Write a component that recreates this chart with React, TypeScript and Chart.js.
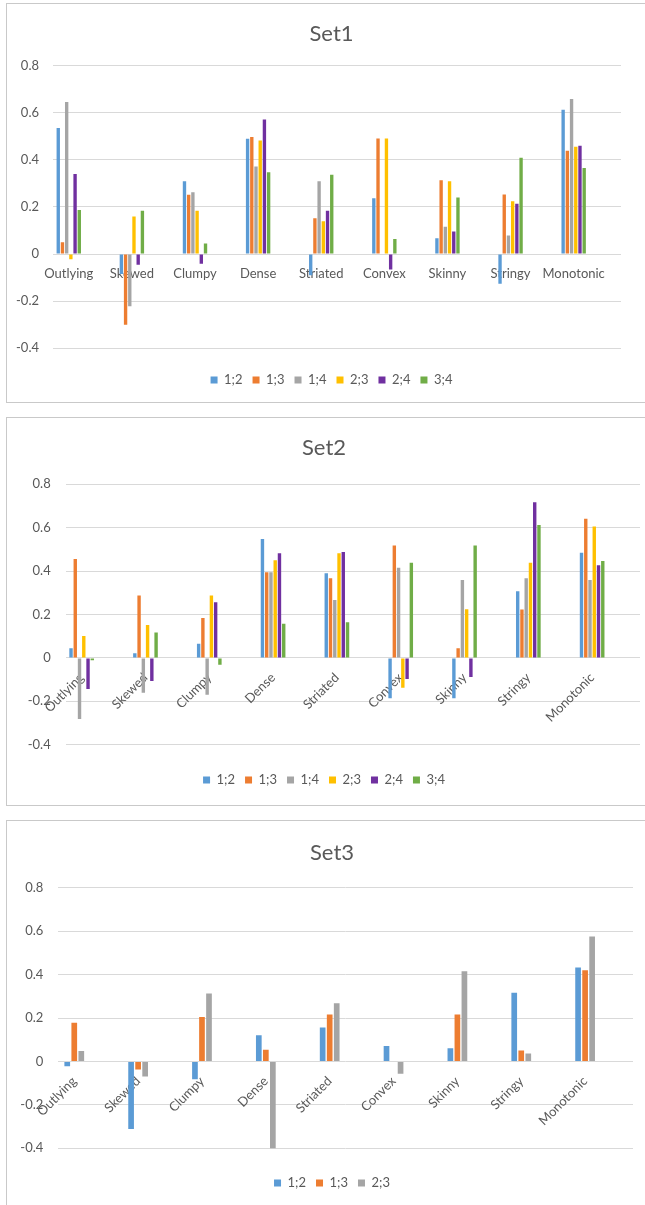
import React, { useEffect, useRef } from 'react';
import { Chart, registerables } from 'chart.js';

Chart.register(...registerables);

const FONT = 'Lato';
const TEXT_COLOR = '#595959';
const GRID_COLOR = '#D9D9D9';

const CATEGORIES = ['Outlying', 'Skewed', 'Clumpy', 'Dense', 'Striated', 'Convex', 'Skinny', 'Stringy', 'Monotonic'];
const SERIES_6 = ['1;2', '1;3', '1;4', '2;3', '2;4', '3;4'];
const SERIES_3 = ['1;2', '1;3', '2;3'];
const COLORS_6 = ['#5B9BD5', '#ED7D31', '#A5A5A5', '#FFC000', '#7030A0', '#70AD47'];
const COLORS_3 = ['#5B9BD5', '#ED7D31', '#A5A5A5'];
const Y_TICKS = [-0.4, -0.2, 0, 0.2, 0.4, 0.6, 0.8];

// Set1
const SET1_12 = [0.535, -0.085, 0.309, 0.49, -0.09, 0.237, 0.067, -0.126, 0.613];
const SET1_13 = [0.05, -0.3, 0.252, 0.497, 0.152, 0.491, 0.313, 0.253, 0.439];
const SET1_14 = [0.645, -0.222, 0.262, 0.372, 0.309, 0, 0.116, 0.079, 0.658];
const SET1_23 = [-0.022, 0.159, 0.184, 0.482, 0.139, 0.491, 0.309, 0.224, 0.456];
const SET1_24 = [0.34, -0.045, -0.041, 0.571, 0.184, -0.065, 0.096, 0.214, 0.46];
const SET1_34 = [0.187, 0.184, 0.045, 0.347, 0.337, 0.064, 0.24, 0.409, 0.365];

// Set2
const SET2_12 = [0.045, 0.022, 0.065, 0.548, 0.39, -0.186, -0.186, 0.307, 0.485];
const SET2_13 = [0.456, 0.287, 0.184, 0.395, 0.367, 0.518, 0.045, 0.223, 0.641];
const SET2_14 = [-0.281, -0.161, -0.17, 0.395, 0.267, 0.415, 0.359, 0.367, 0.359];
const SET2_23 = [0.101, 0.152, 0.287, 0.45, 0.482, -0.137, 0.224, 0.438, 0.605];
const SET2_24 = [-0.143, -0.106, 0.257, 0.482, 0.488, -0.097, -0.088, 0.717, 0.427];
const SET2_34 = [-0.011, 0.117, -0.032, 0.157, 0.164, 0.438, 0.518, 0.613, 0.447];

// Set3
const SET3_12 = [-0.022, -0.311, -0.082, 0.121, 0.157, 0.072, 0.061, 0.317, 0.433];
const SET3_13 = [0.179, -0.037, 0.205, 0.054, 0.217, 0, 0.217, 0.051, 0.42];
const SET3_23 = [0.048, -0.069, 0.313, -0.406, 0.268, -0.057, 0.416, 0.037, 0.576];

type Panel = {
  title: string;
  series: string[];
  colors: string[];
  values: number[][];
  rotation: number;
  boxTop: number;
  boxHeight: number;
  canvasTop: number;
  canvasW: number;
  canvasH: number;
  yAxisW: number;
  yTickPad: number;
  rightGap: number;
  titlePadTop: number;
  titlePadBottom: number;
  legendGap: number;
  padBottom: number;
  catPct: number;
  barPct: number;
};

const PANELS: Panel[] = [
  {
    title: 'Set1', series: SERIES_6, colors: COLORS_6,
    values: [SET1_12, SET1_13, SET1_14, SET1_23, SET1_24, SET1_34],
    rotation: 0, boxTop: 3, boxHeight: 400, canvasTop: 4, canvasW: 649, canvasH: 398,
    yAxisW: 46, yTickPad: 14, rightGap: 35, titlePadTop: 16.8, titlePadBottom: 18.4,
    legendGap: 15.2, padBottom: 5.5, catPct: 0.4, barPct: 0.8,
  },
  {
    title: 'Set2', series: SERIES_6, colors: COLORS_6,
    values: [SET2_12, SET2_13, SET2_14, SET2_23, SET2_24, SET2_34],
    rotation: 45, boxTop: 417, boxHeight: 389, canvasTop: 418, canvasW: 634, canvasH: 386,
    yAxisW: 58.7, yTickPad: 15, rightGap: 1, titlePadTop: 16.8, titlePadBottom: 23.1,
    legendGap: 18.8, padBottom: 7.5, catPct: 0.4, barPct: 0.8,
  },
  {
    title: 'Set3', series: SERIES_3, colors: COLORS_3,
    values: [SET3_12, SET3_13, SET3_23],
    rotation: 45, boxTop: 820, boxHeight: 420, canvasTop: 821, canvasW: 650, canvasH: 390,
    yAxisW: 51.3, yTickPad: 15, rightGap: 24, titlePadTop: 18.8, titlePadBottom: 21.7,
    legendGap: 18.2, padBottom: 11.5, catPct: 0.33, barPct: 0.81,
  },
];

function ChartPanel({ p }: { p: Panel }) {
  const ref = useRef<HTMLCanvasElement>(null);
  useEffect(() => {
    if (!ref.current) return;
    const tickFont = { family: FONT, size: 13 };
    const chart = new Chart(ref.current, {
      type: 'bar',
      data: {
        datasets: p.series.map((name, si) => ({
          label: name,
          data: p.values[si].map((v, i) => ({ x: i, y: v })),
          backgroundColor: p.colors[si],
          borderWidth: 0,
          categoryPercentage: p.catPct,
          barPercentage: p.barPct,
          xAxisID: 'x',
          yAxisID: 'y',
        })),
      },
      options: {
        responsive: false,
        animation: false,
        events: [],
        layout: { padding: { top: 0, left: 0, right: 0, bottom: p.padBottom } },
        plugins: {
          title: {
            display: true,
            text: p.title,
            color: TEXT_COLOR,
            font: { family: FONT, size: 22, weight: 'normal' },
            padding: { top: p.titlePadTop, bottom: p.titlePadBottom },
          },
          legend: {
            position: 'bottom',
            labels: {
              boxWidth: 7,
              boxHeight: 7,
              padding: 10,
              color: TEXT_COLOR,
              font: tickFont,
            },
          },
          tooltip: { enabled: false },
        },
        scales: {
          x: {
            type: 'linear',
            axis: 'x',
            position: { y: 0 },
            min: -0.25,
            max: 8.75,
            offset: false,
            grid: { display: false, drawTicks: false },
            border: { display: false },
            afterBuildTicks: (s: any) => {
              s.ticks = CATEGORIES.map((_, i) => ({ value: i }));
            },
            ticks: {
              autoSkip: false,
              minRotation: p.rotation,
              maxRotation: p.rotation,
              padding: 12,
              color: TEXT_COLOR,
              font: tickFont,
              callback: (_v: any, i: number) => CATEGORIES[i],
            },
          },
          y: {
            type: 'linear',
            axis: 'y',
            position: 'left',
            min: -0.4,
            max: 0.8,
            afterBuildTicks: (s: any) => {
              s.ticks = Y_TICKS.map((v) => ({ value: v }));
            },
            afterFit: (s: any) => {
              s.width = p.yAxisW;
            },
            grid: { color: GRID_COLOR, drawTicks: false, lineWidth: 1 },
            border: { display: false },
            ticks: {
              padding: p.yTickPad,
              color: TEXT_COLOR,
              font: tickFont,
              callback: (v: any) => String(v),
            },
          },
          xgap: {
            type: 'linear',
            axis: 'x',
            position: 'bottom',
            display: true,
            grid: { display: false, drawTicks: false },
            border: { display: false },
            ticks: { display: false },
            afterFit: (s: any) => {
              s.height = p.legendGap;
            },
          },
          yright: {
            type: 'linear',
            axis: 'y',
            position: 'right',
            display: true,
            grid: { display: false, drawTicks: false },
            border: { display: false },
            ticks: { display: false },
            afterFit: (s: any) => {
              s.width = p.rightGap;
            },
          },
        },
      } as any,
    });
    return () => chart.destroy();
  }, [p]);

  return (
    <>
      <div
        style={{
          position: 'absolute',
          left: 6,
          top: p.boxTop,
          width: 700,
          height: p.boxHeight,
          border: '1px solid #C9C9C9',
          boxSizing: 'border-box',
          background: '#FFFFFF',
        }}
      />
      <canvas
        ref={ref}
        width={p.canvasW}
        height={p.canvasH}
        style={{ position: 'absolute', left: 7, top: p.canvasTop, display: 'block' }}
      />
    </>
  );
}

export default function App() {
  return (
    <div
      style={{
        position: 'absolute',
        left: 0,
        top: 0,
        width: 645,
        height: 1205,
        overflow: 'hidden',
        background: '#FFFFFF',
      }}
    >
      {PANELS.map((p) => (
        <ChartPanel key={p.title} p={p} />
      ))}
    </div>
  );
}
